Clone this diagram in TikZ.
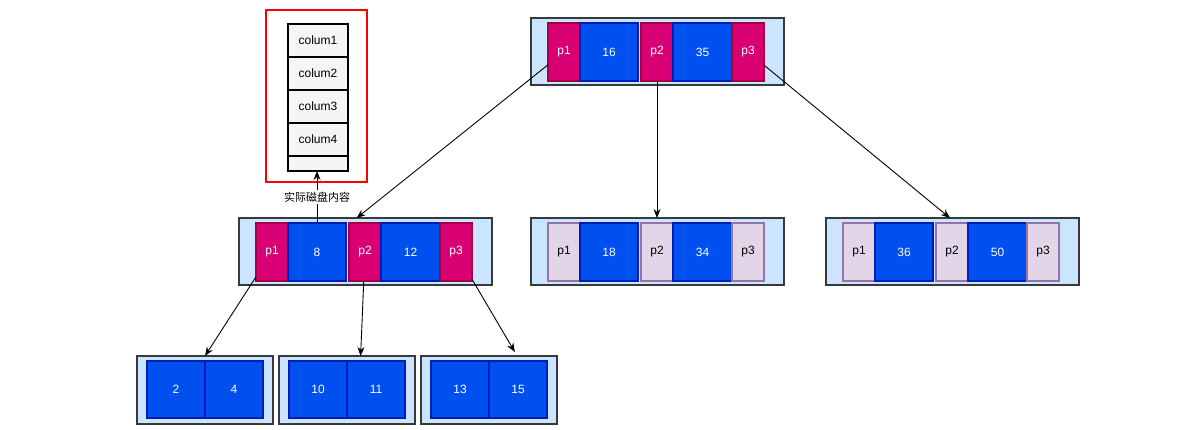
\documentclass[tikz,border=0pt]{standalone}
\usepackage{fontspec}
\setmainfont{Liberation Sans}
\newfontfamily\cjk{Noto Sans CJK SC}
\usetikzlibrary{arrows.meta,calc}
\definecolor{outerfill}{HTML}{CCE5FF}
\definecolor{outerline}{HTML}{36393D}
\definecolor{keyfill}{HTML}{0050EF}
\definecolor{keyline}{HTML}{001DBC}
\definecolor{ptrfill}{HTML}{D80073}
\definecolor{ptrline}{HTML}{A50040}
\definecolor{lptrfill}{HTML}{E1D5E7}
\definecolor{lptrline}{HTML}{9673A6}
\definecolor{colfill}{HTML}{F5F5F5}
\tikzset{
  box/.style={inner sep=0pt,outer sep=0pt,anchor=north west,font=\fontsize{12}{14}\selectfont},
  outerbox/.style={box,fill=outerfill,draw=outerline,line width=1.6pt,minimum height=67pt},
  keycell/.style={box,fill=keyfill,draw=keyline,line width=1.2pt,text=white,minimum width=58pt,minimum height=58pt},
  ptrcell/.style={box,fill=ptrfill,draw=ptrline,line width=1.2pt,text=white,minimum width=32pt,minimum height=58pt},
  lptrcell/.style={box,fill=lptrfill,draw=lptrline,line width=1.2pt,text=black,minimum width=32pt,minimum height=58pt},
  colcell/.style={box,fill=colfill,draw=black,line width=1.3pt,minimum width=60pt,minimum height=33pt},
  arr/.style={draw=black,line width=0.9pt,-{Stealth[length=9pt,width=7pt]}},
}
% #1 prefix, #2 X, #3 Y, #4 pointer style, #5 key1, #6 key2
\newcommand\bplusnode[6]{%
  \node[outerbox,minimum width=253pt] (#1o) at (#2,#3) {};
  \node[#4] (#1p1) at (#2+17,#3+5) {p1};
  \node[keycell] (#1k1) at (#2+49,#3+5) {#5};
  \node[#4] (#1p2) at (#2+110,#3+5) {p2};
  \node[keycell,minimum width=59pt] (#1k2) at (#2+142,#3+5) {#6};
  \node[#4] (#1p3) at (#2+201,#3+5) {p3};
}
% #1 prefix, #2 X, #3 key1, #4 key2
\newcommand\leafnode[4]{%
  \node[outerbox,minimum width=136pt,minimum height=68pt] (#1o) at (#2,356) {};
  \node[keycell,minimum height=57pt] (#1a) at (#2+10,361) {#3};
  \node[keycell,minimum height=57pt] (#1b) at (#2+68,361) {#4};
}
\begin{document}
\begin{tikzpicture}[x=1pt,y=-1pt]
\useasboundingbox (0,0) rectangle (1184,430);
% column stack
\node[box,draw=red,line width=2pt,minimum width=101pt,minimum height=172pt] (redbox) at (266,10) {};
\node[colcell] (c1) at (288,24) {colum1};
\node[colcell] (c2) at (288,57) {colum2};
\node[colcell] (c3) at (288,90) {colum3};
\node[colcell] (c4) at (288,123) {colum4};
\node[colcell,minimum height=15pt] (c5) at (288,156) {};
% tree nodes
\bplusnode{r}{531}{18}{ptrcell}{16}{35}
\bplusnode{l}{239}{218}{ptrcell}{8}{12}
\bplusnode{m}{531}{218}{lptrcell}{18}{34}
\bplusnode{q}{826}{218}{lptrcell}{36}{50}
\leafnode{a}{137}{2}{4}
\leafnode{b}{279}{10}{11}
\leafnode{c}{421}{13}{15}
% connectors
\draw[arr] (rp1) -- ($(lo.north west)!0.465!(lo.north east)$);
\draw[arr] (rp2) -- (rp2 |- mo.north);
\draw[arr] (rp3) -- ($(qo.north west)!0.49!(qo.north east)$);
\draw[arr] (lp1) -- (ao.north);
\draw[arr] (lp2) -- ($(bo.north west)!0.6!(bo.north east)$);
\draw[arr] (lp3) -- ($(co.north west)!0.69!(co.north east)+(0,-4)$);
\draw[arr] (lk1) -- (lk1 |- c5.south) node[pos=0.5,fill=white,inner sep=1.5pt,font=\cjk\fontsize{11}{13}\selectfont] (lbl) {实际磁盘内容};
\end{tikzpicture}
\end{document}
